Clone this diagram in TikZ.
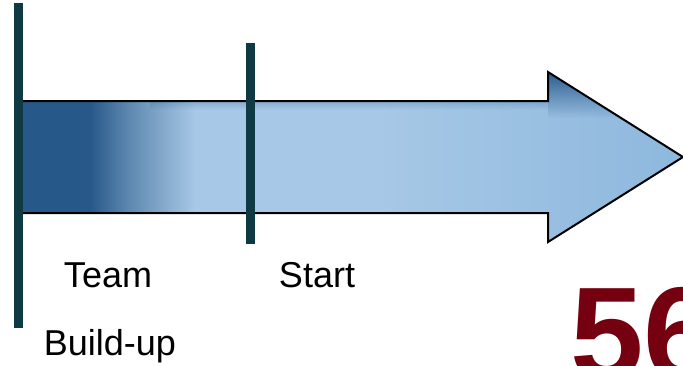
\documentclass[tikz,border=0pt]{standalone}
\usepackage{fontspec}
\setmainfont{Liberation Sans}
\usetikzlibrary{fadings}
\definecolor{darkblue}{HTML}{27588A}
\definecolor{midblue}{HTML}{5F89B0}
\definecolor{lightblue}{HTML}{A7C8E6}
\definecolor{rightblue}{HTML}{8DB8DD}
\definecolor{topblue}{HTML}{2C5C8E}
\definecolor{barteal}{HTML}{0F3A44}
\definecolor{numred}{HTML}{750010}
\pgfdeclarehorizontalshading{arrowshade}{100bp}{color(0bp)=(darkblue); color(30.4bp)=(darkblue); color(33.4bp)=(midblue); color(38.3bp)=(lightblue); color(52bp)=(lightblue); color(75bp)=(rightblue); color(100bp)=(rightblue)}
\tikzfading[name=topdark, top color=transparent!0, bottom color=transparent!100]
\tikzfading[name=leftfade, left color=transparent!100, right color=transparent!0]
\tikzset{
  bar/.style={fill=barteal, draw=none},
  lbl/.style={anchor=base, inner sep=0pt, font=\fontsize{36}{36}\selectfont},
}
\begin{document}
\begin{tikzpicture}[x=1pt,y=-1pt]
\useasboundingbox (0,0) rectangle (683,365);
\clip (0,0) rectangle (683,365);
% arrow
\path[shading=arrowshade] (18,101) -- (548,101) -- (548,72) -- (683,157) -- (548,242) -- (548,213) -- (18,213) -- cycle;
\begin{scope}
  \clip (18,101) -- (548,101) -- (548,72) -- (683,157) -- (548,242) -- (548,213) -- (18,213) -- cycle;
  \fill[topblue, path fading=topdark] (548,72) rectangle (683,118);
  \fill[topblue, path fading=topdark, opacity=0.25] (150,101) rectangle (548,110);
\end{scope}
\draw[line width=2pt, line join=miter] (18,101) -- (548,101) -- (548,72) -- (683,157) -- (548,242) -- (548,213) -- (18,213);
% bars
\fill[bar] (14,3) rectangle (23,328);
\fill[bar] (246,43) rectangle (255,244);
% labels
\node[lbl] (team) at (108,287) {Team};
\node[lbl] (build) at (110,355) {Build-up};
\node[lbl] (start) at (317,287) {Start};
\node[anchor=base west, inner sep=0pt, text=numred, font=\fontsize{132}{132}\selectfont\bfseries] (num) at (570,379) {56};
\end{tikzpicture}
\end{document}
